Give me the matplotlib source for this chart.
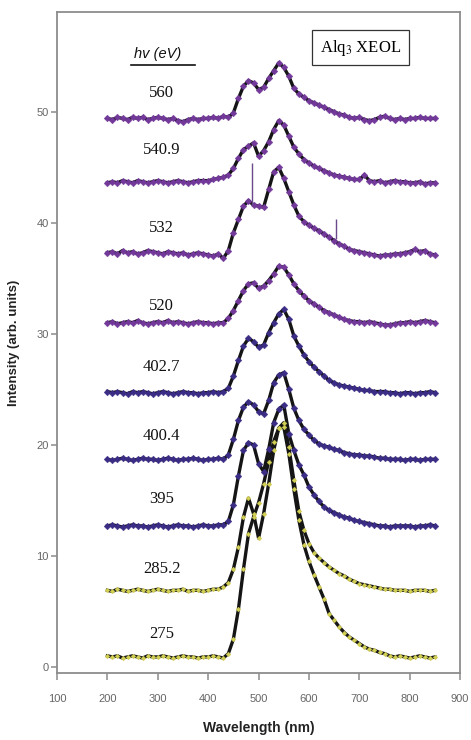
import matplotlib
matplotlib.use('Agg')
import matplotlib.pyplot as plt
from matplotlib.lines import Line2D
import numpy as np

# wavelength grid (nm), one value every 10 nm
wavelength = np.arange(200, 860, 10)

# photon energies (eV) used for each spectrum, bottom to top
energies = ['275', '285.2', '395', '400.4', '402.7', '520', '532', '540.9', '560']

# XEOL intensities (already stacked, arb. units)
i_275 = [1.0, 0.9, 1.0, 0.8, 0.9, 1.0, 0.9, 0.8, 1.0, 0.9,
         0.9, 1.0, 0.9, 0.8, 0.9, 1.0, 0.9, 0.9, 0.8, 0.9,
         0.9, 1.0, 0.9, 0.8, 1.2, 2.5, 5.2, 8.8, 12.0, 13.5,
         14.8, 16.5, 18.5, 20.3, 21.5, 21.6, 19.2, 16.0, 13.2, 11.0,
         9.5, 8.3, 7.2, 6.1, 4.8, 4.2, 3.6, 3.1, 2.7, 2.4,
         2.1, 1.8, 1.6, 1.5, 1.3, 1.2, 1.0, 0.9, 1.0, 0.9,
         0.8, 0.9, 1.0, 0.9, 0.8, 0.9]
i_285 = [6.9, 6.8, 7.0, 6.9, 6.8, 6.9, 7.0, 6.9, 6.8, 6.9,
         7.0, 6.9, 6.8, 6.9, 6.9, 7.0, 6.8, 6.9, 6.9, 6.8,
         6.9, 7.0, 7.0, 7.2, 7.6, 8.8, 10.8, 13.5, 15.2, 13.8,
         11.6, 13.8, 16.5, 19.5, 21.5, 22.0, 19.8, 16.8, 14.0, 12.3,
         11.1, 10.3, 9.8, 9.4, 9.0, 8.7, 8.4, 8.2, 7.9, 7.7,
         7.5, 7.4, 7.3, 7.2, 7.1, 7.0, 7.0, 6.9, 6.9, 6.9,
         6.8, 6.9, 6.9, 6.9, 6.8, 6.9]
i_395 = [12.7, 12.8, 12.7, 12.6, 12.7, 12.8, 12.7, 12.7, 12.6, 12.7,
         12.8, 12.7, 12.6, 12.7, 12.8, 12.7, 12.7, 12.6, 12.7, 12.8,
         12.7, 12.7, 12.8, 12.8, 13.1, 14.6, 17.2, 19.5, 20.2, 20.0,
         18.3, 17.6, 19.6, 22.0, 23.2, 23.6, 21.0, 19.5, 18.2, 17.3,
         16.2, 15.5, 14.9, 14.4, 14.1, 13.9, 13.7, 13.5, 13.4, 13.2,
         13.1, 13.0, 12.9, 12.8, 12.7, 12.7, 12.6, 12.7, 12.7, 12.7,
         12.7, 12.6, 12.7, 12.7, 12.8, 12.7]
i_400 = [18.7, 18.6, 18.7, 18.8, 18.7, 18.6, 18.7, 18.8, 18.7, 18.7,
         18.6, 18.7, 18.8, 18.7, 18.6, 18.7, 18.7, 18.8, 18.7, 18.6,
         18.7, 18.7, 18.8, 18.7, 19.1, 20.5, 22.2, 23.4, 23.9, 23.6,
         23.0, 22.8, 24.0, 25.6, 26.3, 26.5, 25.0, 23.3, 22.2, 21.4,
         20.9, 20.4, 20.1, 19.9, 19.8, 19.6, 19.5, 19.3, 19.2, 19.1,
         19.1, 19.0, 19.0, 18.9, 18.8, 18.8, 18.7, 18.7, 18.7, 18.6,
         18.7, 18.7, 18.6, 18.7, 18.7, 18.7]
i_402 = [24.8, 24.7, 24.8, 24.7, 24.6, 24.8, 24.7, 24.8, 24.7, 24.6,
         24.7, 24.8, 24.7, 24.6, 24.7, 24.8, 24.7, 24.7, 24.6, 24.7,
         24.7, 24.8, 24.7, 24.8, 25.1, 26.2, 27.6, 28.9, 29.6, 29.3,
         28.8, 29.0, 30.1, 31.0, 31.8, 32.2, 31.3, 29.8, 28.9, 28.1,
         27.5, 27.0, 26.6, 26.2, 25.8, 25.6, 25.4, 25.3, 25.2, 25.1,
         25.0, 24.9, 24.9, 24.8, 24.8, 24.8, 24.7, 24.7, 24.6, 24.7,
         24.7, 24.6, 24.7, 24.7, 24.8, 24.7]
i_520 = [31.0, 31.1, 30.9, 31.0, 31.1, 31.0, 31.2, 31.0, 30.9, 31.0,
         31.1, 31.0, 31.2, 31.0, 31.1, 31.0, 30.9, 31.0, 31.1, 31.0,
         31.0, 30.9, 31.0, 31.0, 31.4, 32.1, 33.0, 33.9, 34.5, 34.6,
         34.1, 34.3, 34.8, 35.4, 36.1, 36.0, 35.3, 34.5, 33.9, 33.4,
         33.0, 32.7, 32.4, 32.1, 31.9, 31.7, 31.5, 31.3, 31.2, 31.1,
         31.1, 31.0, 31.1, 31.0, 30.9, 30.8, 30.8, 30.9, 31.0, 31.0,
         31.1, 31.0, 31.1, 31.2, 31.1, 31.0]
i_532 = [37.3, 37.4, 37.2, 37.5, 37.3, 37.4, 37.2, 37.3, 37.5, 37.4,
         37.3, 37.2, 37.4, 37.3, 37.2, 37.3, 37.1, 37.2, 37.3, 37.2,
         37.1, 37.0, 37.2, 36.8, 37.5, 39.1, 40.3, 41.5, 42.0, 41.6,
         41.5, 41.4, 43.0, 44.6, 45.0, 44.0, 42.8, 41.6, 40.6, 40.1,
         39.8, 39.5, 39.3, 39.0, 38.7, 38.4, 38.1, 37.9, 37.6, 37.5,
         37.4, 37.3, 37.2, 37.1, 37.0, 37.1, 37.1, 37.2, 37.2, 37.3,
         37.4, 37.6, 37.4, 37.5, 37.2, 37.1]
i_540 = [43.6, 43.7, 43.6, 43.8, 43.7, 43.6, 43.8, 43.7, 43.6, 43.7,
         43.8, 43.7, 43.6, 43.7, 43.8, 43.7, 43.6, 43.7, 43.8, 43.8,
         43.8, 43.9, 44.0, 44.1, 44.3, 44.9, 45.8, 46.6, 46.9, 47.2,
         46.0, 46.5, 47.3, 48.4, 49.2, 48.8, 47.8, 46.8, 46.2, 45.7,
         45.4, 45.1, 44.9, 44.7, 44.5, 44.3, 44.2, 44.1, 44.0, 43.9,
         43.9, 44.3, 43.8, 43.7, 43.8, 43.6, 43.7, 43.8, 43.7, 43.7,
         43.6, 43.6, 43.7, 43.5, 43.6, 43.6]
i_560 = [49.4, 49.3, 49.5, 49.4, 49.3, 49.5, 49.4, 49.5, 49.3, 49.4,
         49.5, 49.4, 49.3, 49.4, 49.2, 49.1, 49.3, 49.4, 49.3, 49.4,
         49.4, 49.5, 49.4, 49.6, 49.5, 49.9, 51.2, 52.3, 52.8, 52.6,
         52.0, 52.2, 53.0, 53.7, 54.4, 54.0, 53.2, 52.1, 51.6, 51.3,
         51.0, 50.8, 50.6, 50.4, 50.2, 50.0, 49.8, 49.7, 49.5, 49.4,
         49.5, 49.3, 49.2, 49.3, 49.5, 49.6, 49.4, 49.3, 49.4, 49.3,
         49.4, 49.4, 49.5, 49.4, 49.4, 49.4]

spectra = [i_275, i_285, i_395, i_400, i_402, i_520, i_532, i_540, i_560]

# narrow single-channel spikes on the 532 eV spectrum: (nm, bottom, top)
spikes_532 = [(486, 41.5, 45.4), (653, 38.5, 40.3)]

marker_colors = ['#d2cf55', '#d2cf55', '#3b2c86', '#3b2c86', '#3b2c86',
                 '#72389a', '#72389a', '#72389a', '#72389a']
marker_sizes = [2.4, 2.4, 3.4, 3.4, 3.4, 3.4, 3.4, 3.4, 3.4]

plt.rcParams['mathtext.fontset'] = 'stix'

fig = plt.figure(figsize=(4.71, 7.40), dpi=100)
ax = fig.add_axes([0.121, 0.0905, 0.856, 0.8935])

for y, c, ms in zip(spectra, marker_colors, marker_sizes):
    ax.plot(wavelength, y, color='#151515', lw=2.4, zorder=2)
    ax.plot(wavelength, y, ls='none', marker='D', ms=ms,
            mfc=c, mec=c, mew=0.3, zorder=3)

for x0, y0, y1 in spikes_532:
    ax.vlines(x0, y0, y1, color='#6a4a8a', lw=1.0, zorder=3)

# energy labels next to each spectrum
label_y = [3.0, 8.8, 15.1, 20.8, 27.0, 32.5, 39.5, 46.6, 51.7]
for txt, ly in zip(energies, label_y):
    ax.text(308, ly, txt, family='Liberation Serif', fontsize=12,
            ha='center', va='center', color='#111111')

ax.text(300, 55.2, 'hv (eV)', family='Liberation Sans', fontsize=10.5,
        style='italic', ha='center', va='center', color='#111111')
fig.add_artist(Line2D([131 / 471, 195 / 471], [1 - 65 / 740, 1 - 65 / 740],
                      color='#111111', lw=1.2))

ax.text(0.753, 0.946, 'Alq$_3$ XEOL', transform=ax.transAxes,
        family='Liberation Serif', fontsize=12, ha='center', va='center',
        bbox=dict(boxstyle='square,pad=0.45', fc='white', ec='#333333', lw=0.9))

ax.set_xlim(100, 900)
ax.set_ylim(-0.55, 59.0)
ax.set_xticks(np.arange(100, 901, 100))
ax.set_yticks(np.arange(0, 51, 10))

for s in ax.spines.values():
    s.set_color('#8c8c8c')
    s.set_linewidth(1.3)
ax.tick_params(direction='out', length=5, width=1.1, color='#8c8c8c',
               labelcolor='#666666', labelsize=8)
ax.tick_params(axis='x', pad=10)
ax.tick_params(axis='y', length=4, pad=2)
for lab in ax.get_xticklabels() + ax.get_yticklabels():
    lab.set_family('Liberation Sans')

ax.set_xlabel('Wavelength (nm)', family='Liberation Sans', fontsize=10,
              fontweight='bold', color='#222222', labelpad=12)
ax.set_ylabel('Intensity (arb. units)', family='Liberation Sans', fontsize=9.5,
              fontweight='bold', color='#222222', labelpad=12)

fig.savefig('out.png', dpi=100)
